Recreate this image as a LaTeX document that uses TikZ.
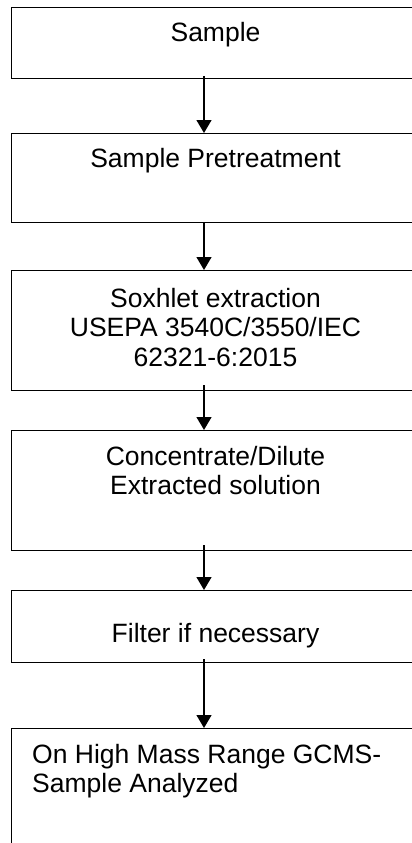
\documentclass[tikz,border=0pt]{standalone}
\usepackage{fontspec}
\setmainfont{Liberation Sans}
\usetikzlibrary{arrows.meta}
\begin{document}
\begin{tikzpicture}[x=1pt,y=-1pt,
  box/.style={draw=black, line width=1.3pt, rectangle, inner sep=0pt, anchor=north west, minimum width=409pt},
  lbl/.style={inner sep=0pt, font=\fontsize{26.5}{29.5}\selectfont, align=center, anchor=base},
  lbll/.style={inner sep=0pt, font=\fontsize{26.5}{29.5}\selectfont, align=left, anchor=base west},
  arr/.style={draw=black, line width=1.3pt, -{Triangle[width=15pt,length=13pt]}}]
\useasboundingbox (0,0) rectangle (412,843);
\clip (0,0) rectangle (412,843);
\node[box, minimum height=71pt] (b1) at (11,7) {};
\node[box, minimum height=89pt] (b2) at (11,133) {};
\node[box, minimum height=120pt] (b3) at (11,270) {};
\node[box, minimum height=120pt] (b4) at (11,430) {};
\node[box, minimum height=72pt] (b5) at (11,590) {};
\node[box, minimum height=200pt] (b6) at (11,728) {};
% multi-line labels are anchored at the baseline of their last line
\node[lbl] (t1) at (215.5,42) {Sample};
\node[lbl] (t2) at (215.5,167) {Sample Pretreatment};
\node[lbl] (t3) at (215.5,366) {Soxhlet extraction\\USEPA 3540C/3550/IEC\\62321-6:2015};
\node[lbl] (t4) at (215.5,494.5) {Concentrate/Dilute\\Extracted solution};
\node[lbl] (t5) at (215.5,642) {Filter if necessary};
\node[lbll] (t6) at (32,792.5) {On High Mass Range GCMS-\\Sample Analyzed};
\draw[arr] ([xshift=193pt,yshift=3pt]b1.south west) -- ([xshift=193pt]b2.north west);
\draw[arr] ([xshift=193pt]b2.south west) -- ([xshift=193pt]b3.north west);
\draw[arr] ([xshift=193pt,yshift=6pt]b3.south west) -- ([xshift=193pt]b4.north west);
\draw[arr] ([xshift=193pt,yshift=6pt]b4.south west) -- ([xshift=193pt]b5.north west);
\draw[arr] ([xshift=193pt,yshift=4pt]b5.south west) -- ([xshift=193pt]b6.north west);
\end{tikzpicture}
\end{document}
